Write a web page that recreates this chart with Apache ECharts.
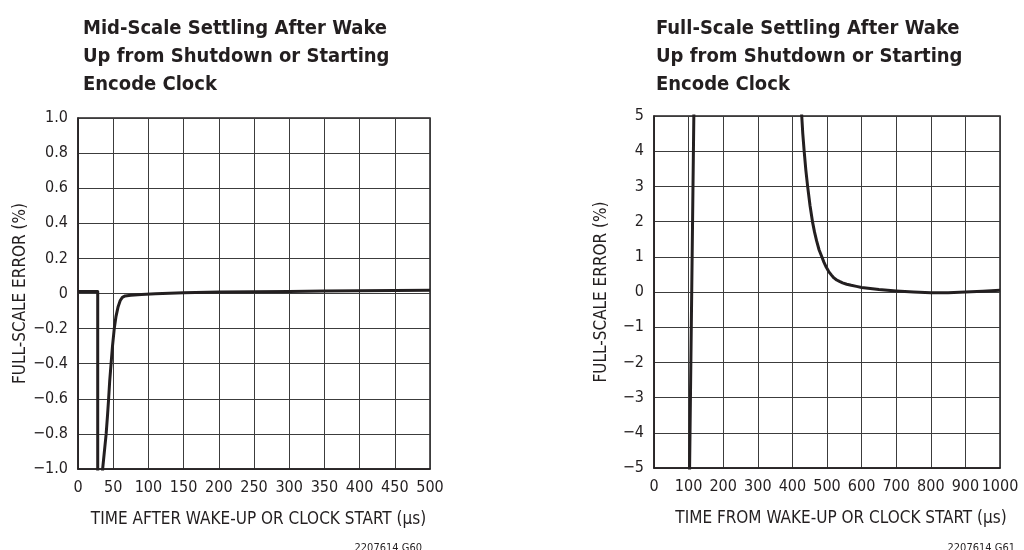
<!DOCTYPE html>
<html>
<head>
<meta charset="utf-8">
<script src="https://cdn.jsdelivr.net/npm/echarts@6/dist/echarts.min.js"></script>
<style>
html,body{margin:0;padding:0;background:#fff;}
#chart{width:1024px;height:550px;}
</style>
</head>
<body>
<div id="chart"></div>
<script>
// ---- Data ----
const midTitle = 'Mid-Scale Settling After Wake\nUp from Shutdown or Starting\nEncode Clock';
const fullTitle = 'Full-Scale Settling After Wake\nUp from Shutdown or Starting\nEncode Clock';
const midXName = 'TIME AFTER WAKE-UP OR CLOCK START (\u00b5s)';
const fullXName = 'TIME FROM WAKE-UP OR CLOCK START (\u00b5s)';
const yName = 'FULL-SCALE ERROR (%)';
const midNote = '2207614 G60';
const fullNote = '2207614 G61';

// Mid-scale settling: time (µs) and error (%)
const midTime  = [0, 28, 28, 34, 35, 38, 40, 42, 43.5, 45, 47, 49, 51.5, 54, 57, 60, 63, 67, 75, 90, 110, 150, 200, 250, 300, 350, 400, 450, 500];
const midError = [0.012, 0.012, -1.1, -1.1, -1.0, -0.88, -0.8, -0.69, -0.6, -0.5, -0.4, -0.3, -0.2, -0.13, -0.075, -0.04, -0.022, -0.014, -0.01, -0.006, -0.002, 0.004, 0.008, 0.01, 0.012, 0.014, 0.016, 0.017, 0.018];

// Full-scale settling: time (µs) and error (%)
const fullTime  = [102.5, 115.5, 300, 425, 427, 430, 434, 439, 444, 451, 458, 464, 470, 477, 485, 491, 498, 505, 513, 520, 528, 536, 545, 557, 570, 585, 600, 625, 650, 675, 700, 750, 800, 850, 900, 950, 1000];
const fullError = [-5.3, 5.3, 5.3, 5.3, 5.0, 4.5, 4.0, 3.45, 3.0, 2.45, 2.0, 1.7, 1.45, 1.2, 1.0, 0.85, 0.7, 0.58, 0.48, 0.4, 0.34, 0.3, 0.26, 0.22, 0.19, 0.16, 0.13, 0.1, 0.07, 0.05, 0.03, 0.0, -0.02, -0.02, 0.0, 0.02, 0.05];

const midData = midTime.map((t, i) => [t, midError[i]]);
const fullData = fullTime.map((t, i) => [t, fullError[i]]);

const FONT = "'Liberation Sans Narrow', 'DejaVu Sans Condensed', 'Arial Narrow', sans-serif";
const INK = '#231f20';
const GRIDC = '#3c3c3c';

function xFmt(v) { return String(Math.round(v)); }
function yFmtMid(v) {
  if (Math.abs(v) < 1e-9) return '0';
  return (v < 0 ? '\u2212' : '') + Math.abs(v).toFixed(1);
}
function yFmtFull(v) {
  if (Math.abs(v) < 1e-9) return '0';
  return (v < 0 ? '\u2212' : '') + Math.abs(Math.round(v));
}

const axisLabelStyle = { color: INK, fontFamily: FONT, fontSize: 16 };
const nameStyle = { color: INK, fontFamily: FONT, fontSize: 17 };

function xAxisCfg(gridIndex, max, interval, name, pad) {
  return {
    type: 'value', gridIndex: gridIndex, min: 0, max: max, interval: interval,
    name: name, nameLocation: 'middle', nameGap: 42,
    nameTextStyle: Object.assign({ padding: pad }, nameStyle),
    axisLine: { show: true, onZero: false, lineStyle: { color: INK, width: 1.5 } },
    axisTick: { show: false },
    axisLabel: Object.assign({ margin: 11, formatter: xFmt, showMaxLabel: true, showMinLabel: true, hideOverlap: false }, axisLabelStyle),
    splitLine: { show: true, lineStyle: { color: GRIDC, width: 1 } }
  };
}
function yAxisCfg(gridIndex, min, max, interval, fmt) {
  return {
    type: 'value', gridIndex: gridIndex, min: min, max: max, interval: interval,
    name: yName, nameLocation: 'middle', nameGap: 44, nameRotate: 90,
    nameTextStyle: nameStyle,
    axisLine: { show: true, onZero: false, lineStyle: { color: INK, width: 1.5 } },
    axisTick: { show: false },
    axisLabel: Object.assign({ margin: 10, formatter: fmt, showMaxLabel: true, showMinLabel: true }, axisLabelStyle),
    splitLine: { show: true, lineStyle: { color: GRIDC, width: 1 } }
  };
}

const chart = echarts.init(document.getElementById('chart'), null, { renderer: 'canvas' });
chart.setOption({
  backgroundColor: '#ffffff',
  animation: false,
  title: [
    { text: midTitle, left: 78, top: 10,
      textStyle: { fontFamily: FONT, fontWeight: 'bold', fontSize: 20, lineHeight: 28, color: INK } },
    { text: fullTitle, left: 651, top: 10,
      textStyle: { fontFamily: FONT, fontWeight: 'bold', fontSize: 20, lineHeight: 28, color: INK } },
    { text: midNote, right: 597, top: 538,
      textStyle: { fontFamily: FONT, fontWeight: 'normal', fontSize: 11, color: INK } },
    { text: fullNote, right: 4, top: 538,
      textStyle: { fontFamily: FONT, fontWeight: 'normal', fontSize: 11, color: INK } }
  ],
  grid: [
    { left: 78, top: 118, width: 352, height: 351, show: true, borderColor: INK, borderWidth: 1.5, backgroundColor: 'transparent' },
    { left: 654, top: 116, width: 346, height: 352, show: true, borderColor: INK, borderWidth: 1.5, backgroundColor: 'transparent' }
  ],
  xAxis: [
    xAxisCfg(0, 500, 50, midXName, [0, 0, 0, 9]),
    xAxisCfg(1, 1000, 100, fullXName, [0, 0, 0, 28])
  ],
  yAxis: [
    yAxisCfg(0, -1, 1, 0.2, yFmtMid),
    yAxisCfg(1, -5, 5, 1, yFmtFull)
  ],
  series: [
    { type: 'line', xAxisIndex: 0, yAxisIndex: 0, data: midData, symbol: 'none', clip: true,
      lineStyle: { color: INK, width: 3, join: 'round' } },
    { type: 'line', xAxisIndex: 1, yAxisIndex: 1, data: fullData, symbol: 'none', clip: true,
      lineStyle: { color: INK, width: 3, join: 'round' } }
  ]
});
</script>
</body>
</html>
